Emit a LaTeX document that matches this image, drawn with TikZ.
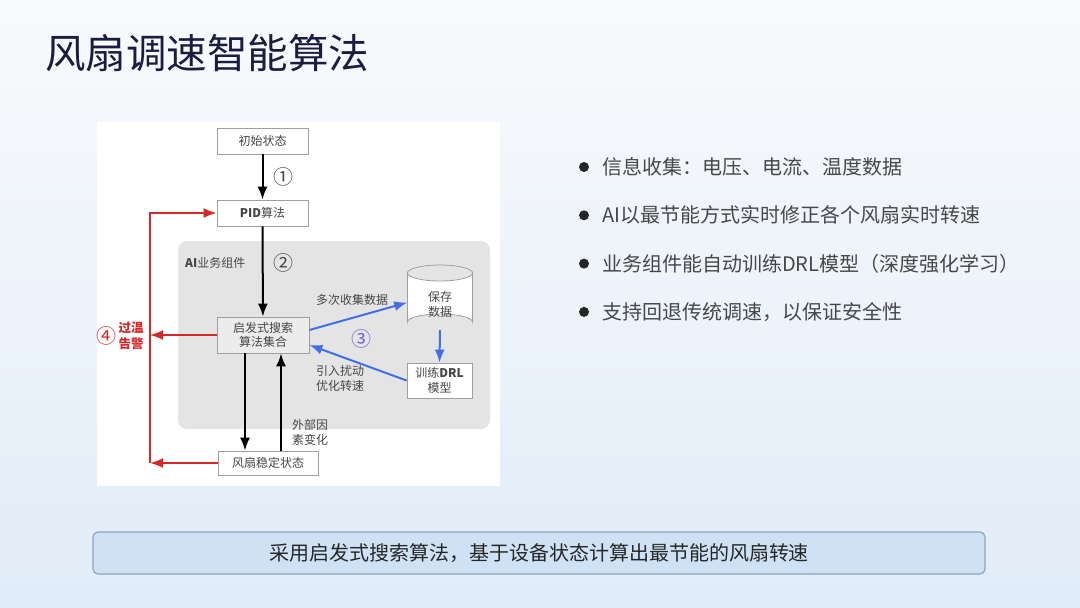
\documentclass[tikz,border=0pt]{standalone}
\usepackage{fontspec}
\setmainfont{Noto Sans CJK SC}
\usetikzlibrary{arrows.meta}

\definecolor{titre}{RGB}{26,28,64}
\definecolor{texte}{RGB}{70,70,70}
\definecolor{fond}{RGB}{228,228,228}
\definecolor{bleu}{RGB}{66,110,230}
\definecolor{violet}{RGB}{110,100,210}
\definecolor{rouge}{RGB}{214,40,40}
\definecolor{bandeau}{RGB}{207,226,245}
\definecolor{bord}{RGB}{140,166,188}
\definecolor{haut}{RGB}{249,250,252}
\definecolor{bas}{RGB}{224,236,248}

\begin{document}
\begin{tikzpicture}[x=1pt, y=-1pt, every node/.style={inner sep=0pt},
    boite/.style={draw=gray!75, fill=white, line width=0.8pt, align=center, text=texte,
        font=\fontsize{12}{14.5}\selectfont},
    fleche/.style={line width=2pt, -{Latex[length=13pt,width=10pt]}},
    flecheb/.style={line width=2pt, bleu, -{Latex[length=13pt,width=10pt]}},
    flecher/.style={line width=2pt, rouge, -{Latex[length=13pt,width=10pt]}},
    etiq/.style={align=center, text=texte, font=\fontsize{12}{15}\selectfont},
    num/.style={text=texte, font=\fontsize{20}{20}\selectfont}]
    \useasboundingbox (0,0) rectangle (1080,608);
    \shade[top color=haut, bottom color=bas] (0,0) rectangle (1080,608);

    \node[anchor=west, text=titre, font=\fontsize{40.5}{40}\selectfont] (titre) at (45,53) {风扇调速智能算法};

    % Schéma
    \fill[white] (97,122) rectangle (500,486);
    \fill[fond, rounded corners=9pt] (178,241) rectangle (490,429);

    \node[boite, minimum width=91, minimum height=26] (init) at (262.5,141) {初始状态};
    \node[boite, minimum width=91, minimum height=26] (pid) at (262.5,213) {{\bfseries PID}算法};
    \node[boite, fill=fond!70!white, minimum width=92, minimum height=36] (heur) at (263,335) {启发式搜索\\算法集合};
    \node[boite, minimum width=100, minimum height=24] (stable) at (268,463) {风扇稳定状态};
    \node[boite, minimum width=65, minimum height=35] (drl) at (439.5,380.5) {训练{\bfseries DRL}\\模型};

    % Base de données (cylindre)
    \draw[gray!75, fill=white, line width=0.8pt] (407.5,273) -- (407.5,322)
        arc[start angle=180, end angle=360, x radius=32.5, y radius=8] -- (472.5,273)
        arc[start angle=0, end angle=180, x radius=32.5, y radius=8] -- cycle;
    \draw[gray!75, line width=0.8pt] (407.5,273) arc[start angle=180, end angle=360, x radius=32.5, y radius=8];
    \node[etiq, minimum width=65, minimum height=65] (cyl) at (440,297.5) {};
    \node[etiq] (cyltxt) at (440,304) {保存\\数据};

    \node[anchor=west, etiq] (ai) at (185,263) {{\bfseries AI}业务组件};
    \node[num] (n1) at (283,177) {①};
    \node[num] (n2) at (283,263) {②};
    \node[num, text=violet] (n3) at (361,339) {③};
    \node[num, text=rouge] (n4) at (106,336) {④};
    \node[etiq] (collecte) at (352,300) {多次收集数据};
    \node[etiq] (pertu) at (340,378) {引入扰动\\优化转速};
    \node[etiq] (ext) at (310,432) {外部因\\素变化};
    \node[etiq, text=rouge, font=\fontsize{12.5}{15.5}\selectfont\bfseries] (alerte) at (131,336) {过温\\告警};

    \draw[fleche] (init) -- (pid);
    \draw[fleche] (pid) -- (heur);
    \draw[fleche] ([xshift=-18pt]heur.south) -- ([xshift=-18pt]heur.south |- stable.north);
    \draw[fleche] ([xshift=18pt]heur.south |- stable.north) -- ([xshift=18pt]heur.south);

    \draw[flecheb] ([yshift=5pt]heur.east) -- ([yshift=-5pt]cyl.west);
    \draw[flecheb] (cyl.south) -- (drl.north);
    \draw[flecheb] (drl.west) -- ([yshift=-10pt]heur.east);

    % Repli en cas de surchauffe
    \coordinate (g1) at (150,213);
    \coordinate (g2) at (150,463);
    \draw[flecher] (g2) -- (g1) -- (pid.west);
    \draw[flecher] (heur.west) -- (heur.west -| g2);
    \draw[flecher] (stable.west) -- (g2);

    % Liste à puces
    \foreach \t [count=\i] in {信息收集：电压、电流、温度数据, AI以最节能方式实时修正各个风扇实时转速,
        业务组件能自动训练DRL模型（深度强化学习）, 支持回退传统调速，以保证安全性} {
        \pgfmathsetmacro{\yy}{167+48.3*(\i-1)}
        \fill[black!85] (584,\yy) circle (5);
        \node[anchor=west, text=black!72, font=\fontsize{20}{20}\selectfont] (puce\i) at (602,\yy) {\t};
    }

    \node[draw=bord, line width=1.2pt, fill=bandeau, rounded corners=5pt, minimum width=892, minimum height=42,
        text=black!85, font=\fontsize{20}{20}\selectfont] (bandeau) at (539,553) {采用启发式搜索算法，基于设备状态计算出最节能的风扇转速};
\end{tikzpicture}
\end{document}
